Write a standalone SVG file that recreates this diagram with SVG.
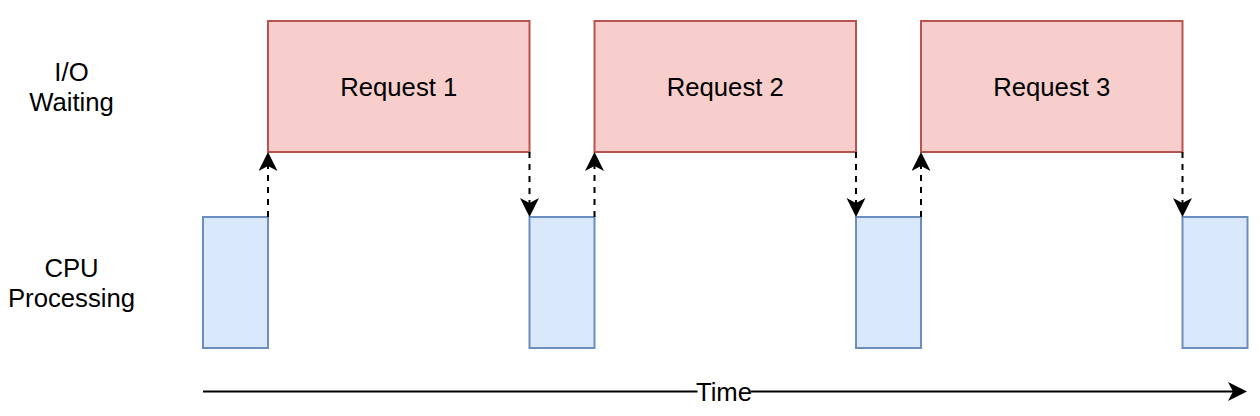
<svg xmlns="http://www.w3.org/2000/svg" width="1260" height="416" viewBox="0 0 1260 416">
<style>
.req{fill:#f8cecc;stroke:#b85450;stroke-width:2}
.cpu{fill:#dae8fc;stroke:#6c8ebf;stroke-width:2}
.lbl{font-family:"Liberation Sans",Arial,sans-serif;font-size:25.7px;fill:#000;text-anchor:middle}
.dash{fill:none;stroke:#000;stroke-width:2;stroke-dasharray:6 6}
.solid{fill:none;stroke:#000;stroke-width:2}
</style>
<defs>
<marker id="arr" markerUnits="userSpaceOnUse" markerWidth="20" markerHeight="20" refX="11" refY="9.5" orient="auto">
<path d="M0,0 L19,9.5 L0,19 L5,9.5 Z" fill="#000"/>
</marker>
</defs>
<rect width="1260" height="416" fill="#fff"/>
<g id="label-io"><text class="lbl" x="71.5" y="81">I/O</text><text class="lbl" x="71.5" y="110.5">Waiting</text></g>
<g id="label-cpu"><text class="lbl" x="71.5" y="276.5">CPU</text><text class="lbl" x="71.5" y="306.5">Processing</text></g>
<g id="req1"><rect class="req" x="268" y="21" width="261.5" height="131"/><text class="lbl" x="398.75" y="95.5">Request 1</text></g>
<g id="req2"><rect class="req" x="594.5" y="21" width="261.5" height="131"/><text class="lbl" x="725.25" y="95.5">Request 2</text></g>
<g id="req3"><rect class="req" x="921" y="21" width="261.5" height="131"/><text class="lbl" x="1051.75" y="95.5">Request 3</text></g>
<g id="cpu1"><rect class="cpu" x="203" y="217" width="65" height="131"/></g>
<g id="cpu2"><rect class="cpu" x="529.5" y="217" width="65" height="131"/></g>
<g id="cpu3"><rect class="cpu" x="856" y="217" width="65" height="131"/></g>
<g id="cpu4"><rect class="cpu" x="1182.5" y="217" width="65" height="131"/></g>
<g id="connectors">
<path class="dash" d="M268,217 L268,160" marker-end="url(#arr)"/>
<path class="dash" d="M529.5,152 L529.5,209" marker-end="url(#arr)"/>
<path class="dash" d="M594.5,217 L594.5,160" marker-end="url(#arr)"/>
<path class="dash" d="M856,152 L856,209" marker-end="url(#arr)"/>
<path class="dash" d="M921,217 L921,160" marker-end="url(#arr)"/>
<path class="dash" d="M1182.5,152 L1182.5,209" marker-end="url(#arr)"/>
<path class="solid" d="M203,391.5 L1239,391.5" marker-end="url(#arr)"/>
<rect x="697.5" y="378" width="53" height="28" fill="#ffffff" stroke="none"/>
<text class="lbl" x="724" y="400.5">Time</text>
</g>
</svg>
